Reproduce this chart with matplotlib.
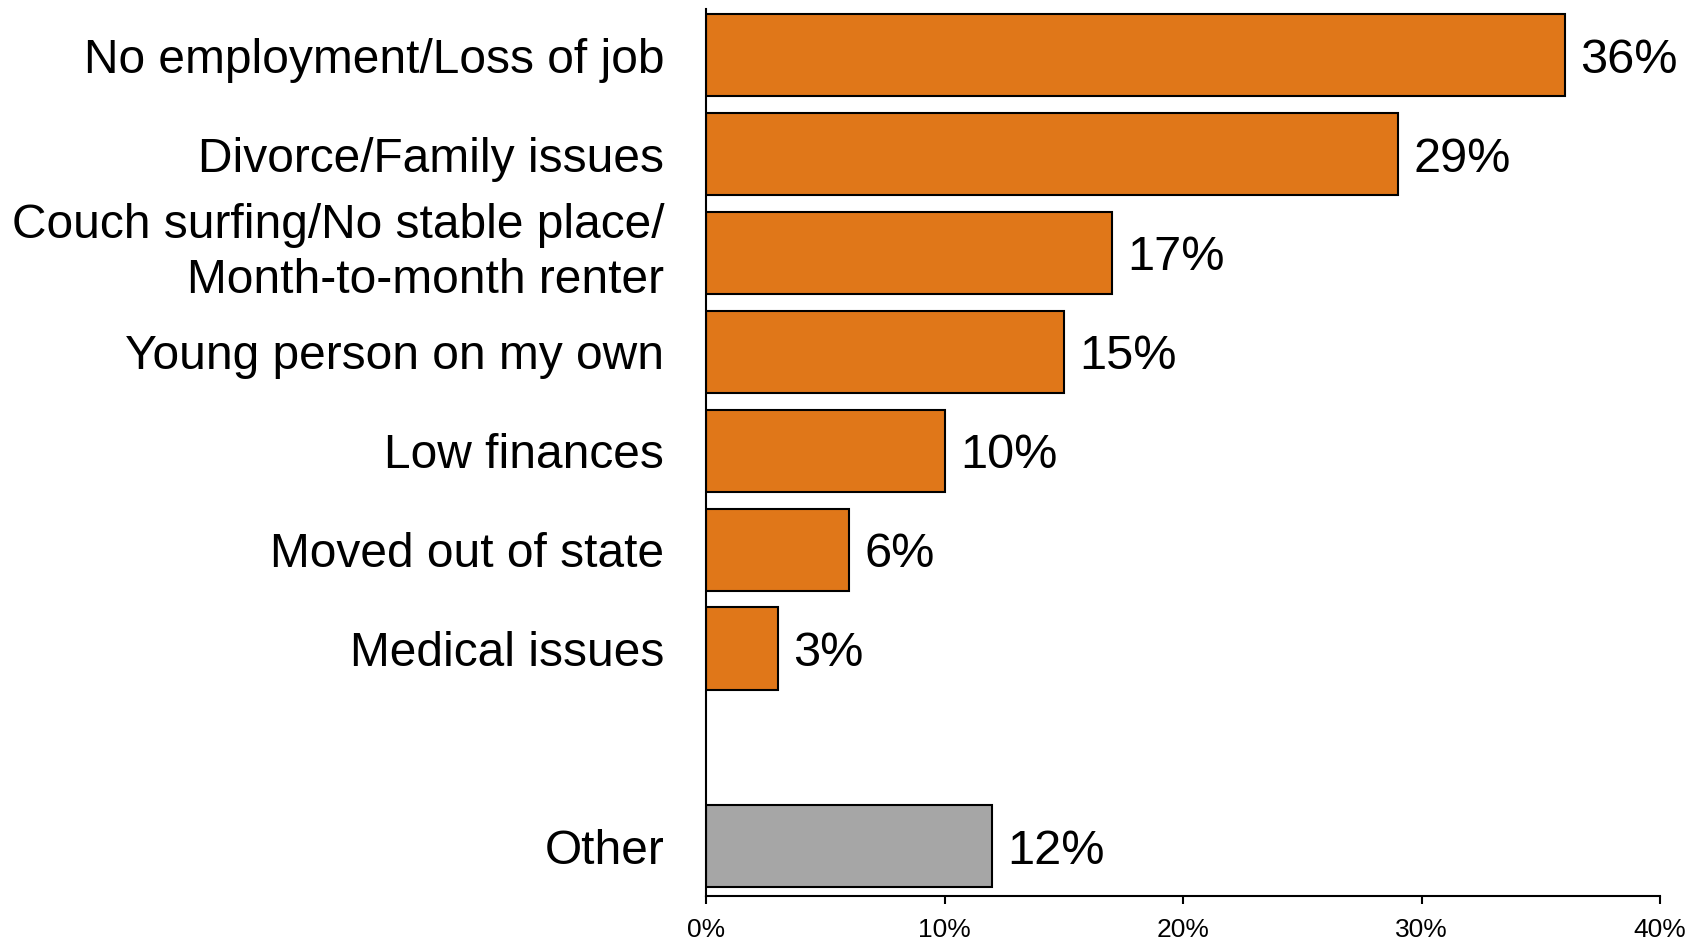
import matplotlib
matplotlib.use("Agg")
import matplotlib.pyplot as plt
import matplotlib.ticker as mticker
import numpy as np

plt.rcParams['font.family'] = ['Liberation Sans', 'DejaVu Sans']

# data
categories = ['No employment/Loss of job', 'Divorce/Family issues',
              'Couch surfing/No stable place/\nMonth-to-month renter',
              'Young person on my own', 'Low finances', 'Moved out of state',
              'Medical issues', 'Other']
values = [36, 29, 17, 15, 10, 6, 3, 12]
slots = [0, 1, 2, 3, 4, 5, 6, 8]   # empty slot before "Other"
bar_colors = ['#E07719'] * 7 + ['#A6A6A6']
xticks = [0, 10, 20, 30, 40]

fig = plt.figure(figsize=(16.98, 9.39), dpi=100)
ax = fig.add_axes([0.4158, 0.0461, 0.5619, 0.9447])

ax.barh(slots, values, height=0.83, color=bar_colors,
        edgecolor='black', linewidth=1.5)

for y, v in zip(slots, values):
    ax.annotate(f'{v}%', (v, y), xytext=(11, 0), textcoords='offset points',
                va='center_baseline', ha='left', fontsize=35)

ax.set_ylim(8.5, -0.47)
ax.set_xlim(0, 40)
ax.set_yticks(slots)
ax.set_yticklabels(categories, fontsize=34.5, ha='right', linespacing=1.3,
                   va='center_baseline')
# two-line label sits a bit higher
for lbl in ax.get_yticklabels():
    if '\n' in lbl.get_text():
        lbl.set_va('center')
ax.tick_params(axis='y', length=0, pad=30)
ax.set_xticks(xticks)
ax.xaxis.set_major_formatter(mticker.FuncFormatter(lambda x, p: f'{x:.0f}%'))
ax.tick_params(axis='x', labelsize=19, length=6, width=1.5, direction='out', pad=10)

for s in ['top', 'right']:
    ax.spines[s].set_visible(False)
for s in ['left', 'bottom']:
    ax.spines[s].set_linewidth(1.5)

fig.savefig('out.png', dpi=100)
